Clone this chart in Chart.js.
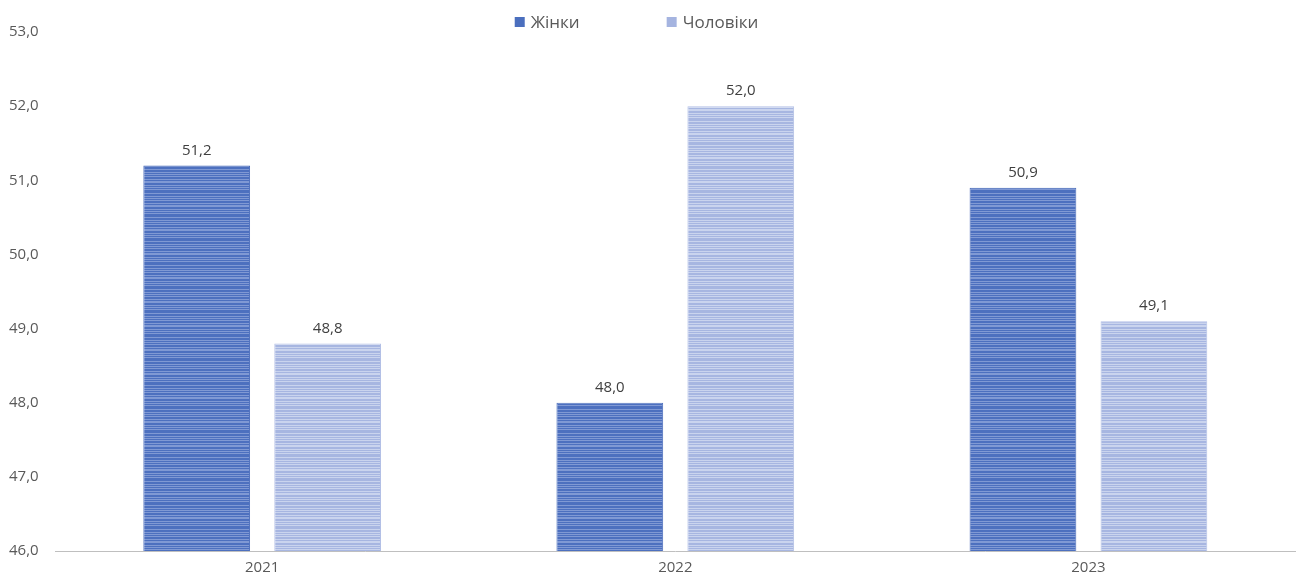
<!DOCTYPE html>
<html>
<head>
<meta charset="utf-8">
<script src="https://cdn.jsdelivr.net/npm/chart.js@4"></script>
<style>
  html, body { margin: 0; padding: 0; background: #fff; }
  #wrap { width: 1301px; height: 577px; }
</style>
</head>
<body>
<div id="wrap"><canvas id="chart"></canvas></div>
<script>
const years = ['2021', '2022', '2023'];
const women = [51.2, 48.0, 50.9];
const men = [48.8, 52.0, 49.1];
const yTicks = [46, 47, 48, 49, 50, 51, 52, 53];
const seriesNames = ['Жінки', 'Чоловіки'];
const seriesColors = ['#4b6fbe', '#a5b4e0'];

// horizontal stripe fill, like the original's gradient banding
function stripes(base, light) {
    const c = document.createElement('canvas');
    c.width = 4; c.height = 24;
    const g = c.getContext('2d');
    const rows = [0, 1, 0, 0.4, 1, 0, 0.7, 0, 1, 0.3, 0, 1, 0, 0.6, 1, 0, 0.2, 1, 0, 0.8, 0, 1, 0.5, 0];
    rows.forEach((t, i) => {
        g.fillStyle = t > 0.5 ? light : base;
        g.fillRect(0, i, 4, 1);
    });
    return g.createPattern(c, 'repeat');
}

const valueLabels = {
    id: 'valueLabels',
    afterDatasetsDraw(chart) {
        const ctx = chart.ctx;
        ctx.save();
        ctx.font = '15px "Open Sans", sans-serif';
        ctx.fillStyle = '#404040';
        ctx.textAlign = 'center';
        ctx.textBaseline = 'middle';
        chart.data.datasets.forEach((ds, i) => {
            chart.getDatasetMeta(i).data.forEach((bar, j) => {
                ctx.fillText(ds.data[j].toFixed(1).replace('.', ','), bar.x, bar.y - 15);
            });
        });
        ctx.restore();
    }
};

// legend drawn by hand for the wide gap between the two entries
const topLegend = {
    id: 'topLegend',
    afterDraw(chart) {
        const ctx = chart.ctx;
        ctx.save();
        ctx.font = '17px "Open Sans", sans-serif';
        ctx.textBaseline = 'middle';
        const gap = 87;
        const widths = seriesNames.map(n => 16 + ctx.measureText(n).width);
        const total = widths.reduce((a, b) => a + b, 0) + gap;
        let x = chart.width / 2 - 14 - total / 2;
        const y = 22;
        seriesNames.forEach((name, i) => {
            ctx.fillStyle = seriesColors[i];
            ctx.fillRect(x, y - 5, 10, 10);
            ctx.fillStyle = '#595959';
            ctx.fillText(name, x + 16, y + 1);
            x += widths[i] + gap;
        });
        ctx.restore();
    }
};

const tickFont = { family: '"Open Sans", sans-serif', size: 15 };

new Chart(document.getElementById('chart'), {
    type: 'bar',
    data: {
        labels: years,
        datasets: [{
            label: seriesNames[0],
            data: women,
            backgroundColor: stripes('#4d70bf', '#8099d4'),
            borderColor: '#4a6cba',
            borderWidth: 1,
            categoryPercentage: 0.634,
            barPercentage: 0.815
        }, {
            label: seriesNames[1],
            data: men,
            backgroundColor: stripes('#a7b6e1', '#cad4ee'),
            borderColor: '#b3c0e6',
            borderWidth: 1,
            categoryPercentage: 0.634,
            barPercentage: 0.815
        }]
    },
    options: {
        responsive: true,
        maintainAspectRatio: false,
        animation: false,
        layout: { padding: { top: 32, right: 6, left: 0, bottom: 0 } },
        plugins: {
            legend: { display: false },
            tooltip: { enabled: false }
        },
        scales: {
            x: {
                grid: { display: false },
                border: { color: '#bfbfbf' },
                ticks: { color: '#595959', font: tickFont, padding: 0 }
            },
            y: {
                min: 46,
                max: 53,
                afterBuildTicks(axis) { axis.ticks = yTicks.map(v => ({ value: v })); },
                grid: { display: false },
                border: { display: false },
                ticks: {
                    color: '#595959',
                    font: tickFont,
                    padding: 9,
                    callback: v => v.toFixed(1).replace('.', ',')
                }
            }
        }
    },
    plugins: [valueLabels, topLegend]
});
</script>
</body>
</html>
